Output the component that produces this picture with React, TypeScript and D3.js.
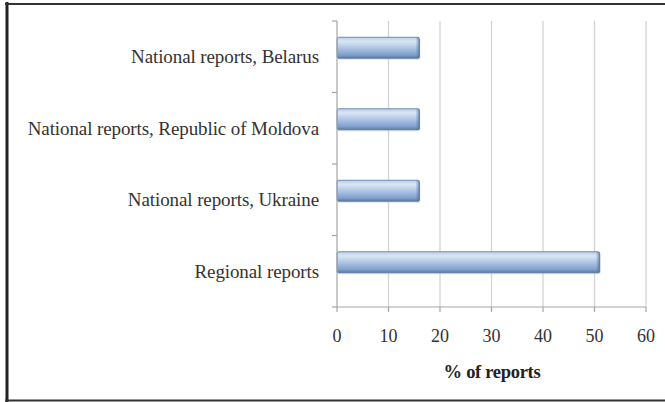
import React from "react";
import * as d3 from "d3";

const categories = [
  "National reports, Belarus",
  "National reports, Republic of Moldova",
  "National reports, Ukraine",
  "Regional reports",
];
const values = [16, 16, 16, 51];
const xTicks = [0, 10, 20, 30, 40, 50, 60];
const xTitle = "% of reports";

const W = 665;
const H = 402;

export default function App() {
  const x = d3.scaleLinear().domain([0, 60]).range([337, 646]);
  const y = d3.scaleBand().domain(categories).range([21, 307]).padding(0);
  const barH = 21;
  const barOffset = -9;
  const bottom = 307;
  const left = 337;

  return (
    <svg
      width={W}
      height={H}
      style={{ position: "absolute", left: 0, top: 0, background: "#fff" }}
      fontFamily="'Liberation Serif', 'Times New Roman', serif"
    >
      <defs>
        <linearGradient id="barGrad" x1="0" y1="0" x2="0" y2="1">
          <stop offset="0%" stopColor="#b9cde6" />
          <stop offset="20%" stopColor="#dae6f4" />
          <stop offset="55%" stopColor="#a8c1e2" />
          <stop offset="85%" stopColor="#7f9fcb" />
          <stop offset="100%" stopColor="#58799f" />
        </linearGradient>
        <linearGradient id="capGrad" x1="0" y1="0" x2="1" y2="0">
          <stop offset="0%" stopColor="#58799f" stopOpacity={0} />
          <stop offset="100%" stopColor="#4d6c96" stopOpacity={0.7} />
        </linearGradient>
      </defs>
      <rect x={0} y={0} width={W} height={H} fill="#fff" />
      {/* frame */}
      <line x1={7} y1={2} x2={7} y2={H} stroke="#222" strokeWidth={3} />
      <line x1={5} y1={4} x2={W} y2={4} stroke="#333" strokeWidth={2} />
      <line x1={5} y1={400.5} x2={W} y2={400.5} stroke="#333" strokeWidth={2} />

      {/* gridlines */}
      {xTicks.map((t) =>
        t === 0 ? null : (
          <line
            key={"g" + t}
            x1={x(t)}
            x2={x(t)}
            y1={21}
            y2={bottom}
            stroke="#d4d4d4"
            strokeWidth={1.3}
          />
        )
      )}

      {/* bars */}
      {categories.map((c, i) => {
        const cy = (y(c) as number) + y.bandwidth() / 2 + barOffset;
        const w = x(values[i]) - x(0);
        return (
          <g key={c}>
            <rect
              x={x(0) + 1}
              y={cy - barH / 2 + 1.5}
              width={w}
              height={barH}
              fill="#b0b8c4"
              opacity={0.4}
              rx={1.5}
            />
            <rect
              x={x(0)}
              y={cy - barH / 2}
              width={w}
              height={barH}
              fill="url(#barGrad)"
              stroke="#5677a8"
              strokeWidth={0.8}
              rx={1.5}
            />
            <rect
              x={x(0) + w - 4}
              y={cy - barH / 2}
              width={4}
              height={barH}
              fill="url(#capGrad)"
              rx={1.5}
            />
          </g>
        );
      })}

      {/* y axis */}
      <line x1={left} x2={left} y1={21} y2={bottom} stroke="#a6a6a6" strokeWidth={1.2} />
      {[...categories.map((c) => y(c) as number), bottom].map((v, i) => (
        <line key={"yt" + i} x1={left - 5} x2={left} y1={v} y2={v} stroke="#a6a6a6" strokeWidth={1.2} />
      ))}
      {categories.map((c) => (
        <text
          key={"l" + c}
          x={319}
          y={(y(c) as number) + y.bandwidth() / 2}
          dy="0.35em"
          textAnchor="end"
          fontSize={19}
          fill="#333"
          letterSpacing={-0.1}
        >
          {c}
        </text>
      ))}

      {/* x axis */}
      <line x1={left} x2={x(60)} y1={bottom} y2={bottom} stroke="#a6a6a6" strokeWidth={1.2} />
      {xTicks.map((t) => (
        <g key={"xt" + t}>
          <line x1={x(t)} x2={x(t)} y1={bottom} y2={bottom + 5} stroke="#a6a6a6" strokeWidth={1.2} />
          <text x={x(t)} y={336} dy="0.35em" textAnchor="middle" fontSize={18} fill="#333">
            {t}
          </text>
        </g>
      ))}
      <text
        x={492}
        y={372}
        dy="0.35em"
        textAnchor="middle"
        fontSize={18.5}
        fontWeight="bold"
        fill="#222"
        letterSpacing={-0.3}
      >
        {xTitle}
      </text>
    </svg>
  );
}
